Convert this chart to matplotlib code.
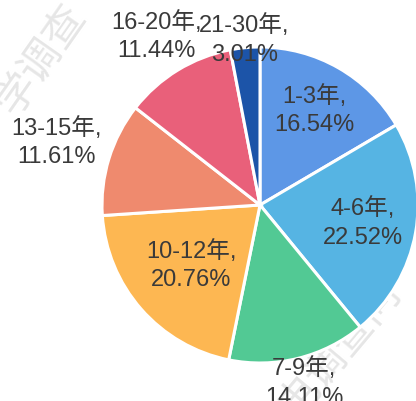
import matplotlib.pyplot as plt
import numpy as np

plt.rcParams['font.family'] = ['Liberation Sans', 'Noto Sans CJK SC', 'DejaVu Sans']

categorias = ["1-3年", "4-6年", "7-9年", "10-12年", "13-15年", "16-20年", "21-30年"]
porcentajes = [16.54, 22.52, 14.11, 20.76, 11.61, 11.44, 3.01]
colores = ["#5d97e6", "#56b4e3", "#52c994", "#fdb752", "#ef8a6e", "#e9607a", "#1c54a8"]
# distancia de la etiqueta al centro (en radios)
dist_etiqueta = [0.69, 0.66, 1.16, 0.58, 1.35, 1.25, 1.05]

fig = plt.figure(figsize=(4.16, 4.01), dpi=100)
ax = fig.add_axes([0, 0, 1, 1])

# marca de agua
ax.text(-1.38, 0.92, "学调查", fontsize=30, color="#e6e6e6", rotation=55,
        ha="center", va="center", zorder=0)
ax.text(0.5, -0.9, "电调查问", fontsize=30, color="#e6e6e6", rotation=50,
        ha="center", va="center", zorder=0)

wedges, _ = ax.pie(porcentajes, colors=colores, startangle=90, counterclock=False,
                   radius=1, wedgeprops=dict(edgecolor="white", linewidth=2.2))
for w in wedges:
    w.set_zorder(2)

inicio = 90
for cat, p, d in zip(categorias, porcentajes, dist_etiqueta):
    ang = np.deg2rad(inicio - p * 3.6 / 2)
    inicio -= p * 3.6
    ax.text(d * np.cos(ang), d * np.sin(ang), f"{cat},\n{p:.2f}%",
            ha="center", va="center", fontsize=17, color="#3a3a3a",
            linespacing=1.38, zorder=3)

ax.set_xlim(-260 / 158, 156 / 158)
ax.set_ylim(-196 / 158, 205 / 158)
ax.set_aspect("auto")
ax.axis("off")

plt.savefig("out.png", dpi=100)
